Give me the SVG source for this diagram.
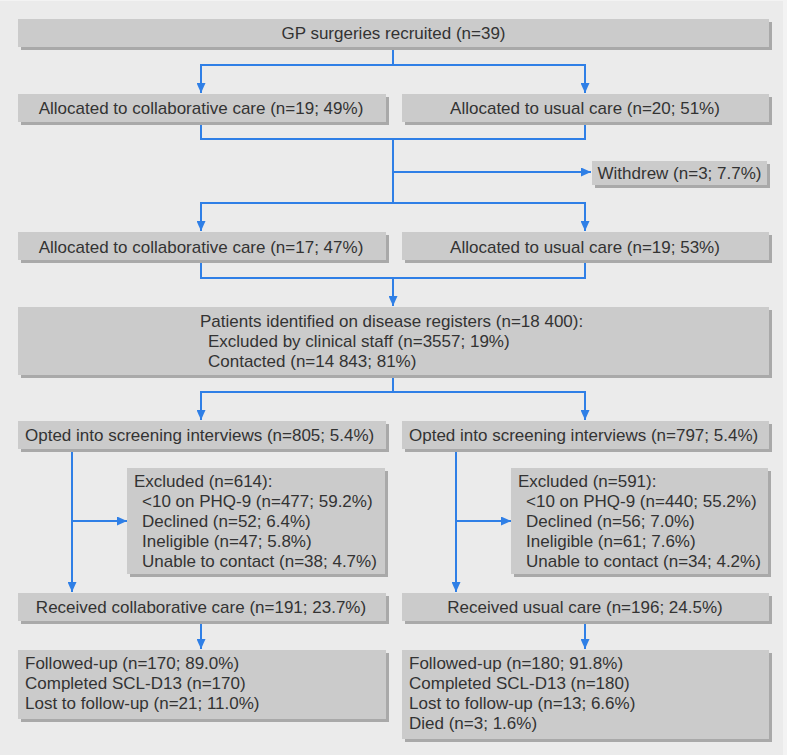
<svg xmlns="http://www.w3.org/2000/svg" width="787" height="755" viewBox="0 0 787 755">
<defs>
<marker id="ah" markerUnits="userSpaceOnUse" markerWidth="10" markerHeight="9" refX="10" refY="4.5" orient="auto">
<path d="M0,0 L10,4.5 L0,9 z" fill="#2f7fe6"/>
</marker>
<style>
.bg{fill:#ebebeb}
.box{fill:#cbcbcb}
.sh{fill:#a9a9a9}
text{font-family:"Liberation Sans",Arial,sans-serif;font-size:17px;fill:#333333}
.c{text-anchor:middle}
.ln{fill:none;stroke:#2f7fe6;stroke-width:2}
.ar{marker-end:url(#ah)}
</style>
</defs>
<rect x="0" y="0" width="787" height="755" fill="#f3f3f3"/>
<rect class="bg" x="0" y="1" width="783" height="754"/>

<g id="connectors">
<path class="ln" d="M393 47 V65"/>
<path class="ln ar" d="M393 65 H201 V93"/>
<path class="ln ar" d="M393 65 H585 V93"/>
<path class="ln" d="M201 122 V139 H585 V122"/>
<path class="ln" d="M393 139 V203"/>
<path class="ln ar" d="M393 172 H591"/>
<path class="ln ar" d="M393 203 H201 V231"/>
<path class="ln ar" d="M393 203 H585 V231"/>
<path class="ln" d="M201 260 V278 H585 V260"/>
<path class="ln ar" d="M393 278 V306"/>
<path class="ln" d="M393 375 V392"/>
<path class="ln ar" d="M393 392 H201 V420"/>
<path class="ln ar" d="M393 392 H585 V420"/>
<path class="ln ar" d="M72 449 V592"/>
<path class="ln ar" d="M72 521 H127"/>
<path class="ln ar" d="M456 449 V592"/>
<path class="ln ar" d="M456 521 H511"/>
<path class="ln ar" d="M201 621 V649"/>
<path class="ln ar" d="M585 621 V649"/>
</g>

<g id="n-top">
<rect class="sh" x="21" y="22" width="751" height="28"/>
<rect class="box" x="18" y="19" width="751" height="28"/>
<text class="c" x="393.5" y="39">GP surgeries recruited (n=39)</text>
</g>
<g id="n-cc1">
<rect class="sh" x="21" y="97" width="368" height="28"/>
<rect class="box" x="18" y="94" width="368" height="28"/>
<text class="c" x="201" y="114">Allocated to collaborative care (n=19; 49%)</text>
</g>
<g id="n-uc1">
<rect class="sh" x="405" y="97" width="367" height="28"/>
<rect class="box" x="402" y="94" width="367" height="28"/>
<text class="c" x="585" y="114">Allocated to usual care (n=20; 51%)</text>
</g>
<g id="n-withdrew">
<rect class="sh" x="595" y="164" width="175" height="24"/>
<rect class="box" x="592" y="161" width="175" height="24"/>
<text class="c" x="679.5" y="179">Withdrew (n=3; 7.7%)</text>
</g>
<g id="n-cc2">
<rect class="sh" x="21" y="235" width="368" height="28"/>
<rect class="box" x="18" y="232" width="368" height="28"/>
<text class="c" x="201" y="252.5">Allocated to collaborative care (n=17; 47%)</text>
</g>
<g id="n-uc2">
<rect class="sh" x="405" y="235" width="367" height="28"/>
<rect class="box" x="402" y="232" width="367" height="28"/>
<text class="c" x="585" y="252.5">Allocated to usual care (n=19; 53%)</text>
</g>
<g id="n-patients">
<rect class="sh" x="21" y="310" width="751" height="68"/>
<rect class="box" x="18" y="307" width="751" height="68"/>
<text x="200" y="326.5">Patients identified on disease registers (n=18 400):</text>
<text x="208" y="346.5">Excluded by clinical staff (n=3557; 19%)</text>
<text x="208" y="366.5">Contacted (n=14 843; 81%)</text>
</g>
<g id="n-optL">
<rect class="sh" x="21" y="424" width="368" height="28"/>
<rect class="box" x="18" y="421" width="368" height="28"/>
<text x="25" y="441">Opted into screening interviews (n=805; 5.4%)</text>
</g>
<g id="n-optR">
<rect class="sh" x="405" y="424" width="367" height="28"/>
<rect class="box" x="402" y="421" width="367" height="28"/>
<text x="409" y="441">Opted into screening interviews (n=797; 5.4%)</text>
</g>
<g id="n-exL">
<rect class="sh" x="130" y="471" width="258" height="106"/>
<rect class="box" x="127" y="468" width="258" height="106"/>
<text x="134" y="487">Excluded (n=614):</text>
<text x="142" y="507">&lt;10 on PHQ-9 (n=477; 59.2%)</text>
<text x="142" y="527">Declined (n=52; 6.4%)</text>
<text x="142" y="547">Ineligible (n=47; 5.8%)</text>
<text x="142" y="567">Unable to contact (n=38; 4.7%)</text>
</g>
<g id="n-exR">
<rect class="sh" x="514" y="471" width="257" height="106"/>
<rect class="box" x="511" y="468" width="257" height="106"/>
<text x="518" y="487">Excluded (n=591):</text>
<text x="526" y="507">&lt;10 on PHQ-9 (n=440; 55.2%)</text>
<text x="526" y="527">Declined (n=56; 7.0%)</text>
<text x="526" y="547">Ineligible (n=61; 7.6%)</text>
<text x="526" y="567">Unable to contact (n=34; 4.2%)</text>
</g>
<g id="n-recL">
<rect class="sh" x="21" y="596" width="368" height="28"/>
<rect class="box" x="18" y="593" width="368" height="28"/>
<text class="c" x="201" y="613">Received collaborative care (n=191; 23.7%)</text>
</g>
<g id="n-recR">
<rect class="sh" x="405" y="596" width="367" height="28"/>
<rect class="box" x="402" y="593" width="367" height="28"/>
<text class="c" x="585" y="613">Received usual care (n=196; 24.5%)</text>
</g>
<g id="n-fuL">
<rect class="sh" x="21" y="653" width="368" height="69"/>
<rect class="box" x="18" y="650" width="368" height="69"/>
<text x="25" y="669">Followed-up (n=170; 89.0%)</text>
<text x="25" y="689">Completed SCL-D13 (n=170)</text>
<text x="25" y="709">Lost to follow-up (n=21; 11.0%)</text>
</g>
<g id="n-fuR">
<rect class="sh" x="405" y="653" width="367" height="89"/>
<rect class="box" x="402" y="650" width="367" height="89"/>
<text x="409" y="669">Followed-up (n=180; 91.8%)</text>
<text x="409" y="689">Completed SCL-D13 (n=180)</text>
<text x="409" y="709">Lost to follow-up (n=13; 6.6%)</text>
<text x="409" y="729">Died (n=3; 1.6%)</text>
</g>
</svg>
